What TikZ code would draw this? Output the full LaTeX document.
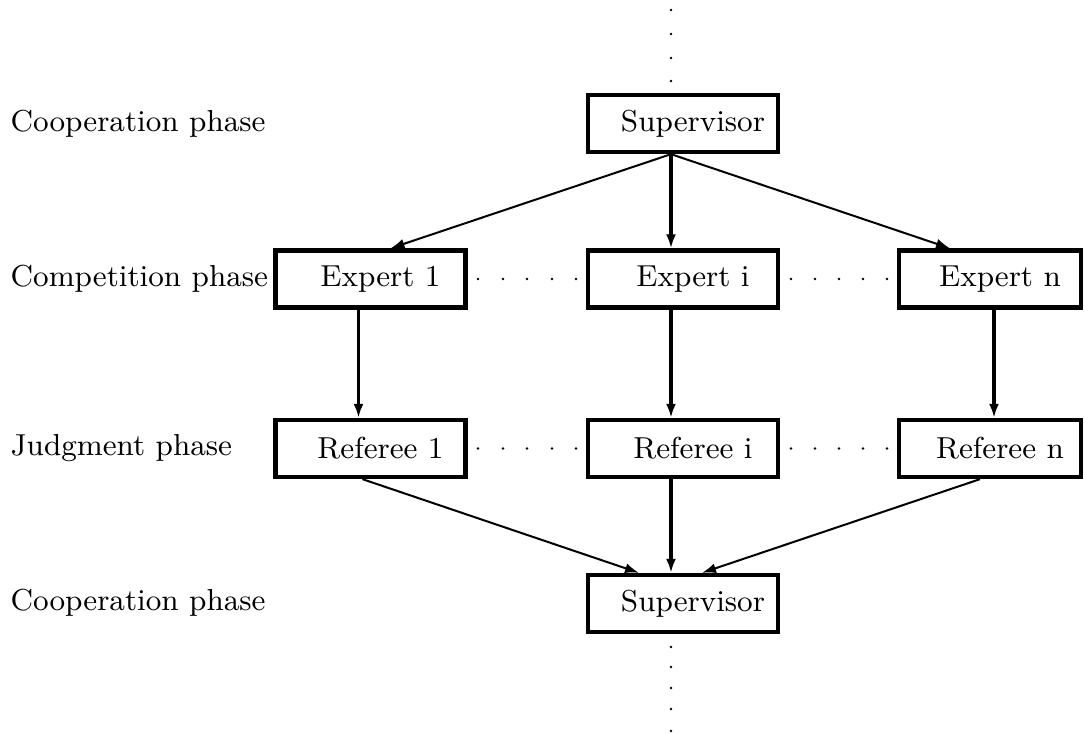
\documentclass[tikz,border=0pt]{standalone}
\usetikzlibrary{arrows.meta,calc}
\begin{document}
\begin{tikzpicture}[x=0.3pt,y=-0.3pt,
  font=\fontsize{9.1}{11}\selectfont,
  box/.style={draw,line width=1.3pt,minimum width=57pt,minimum height=17.1pt,inner sep=0pt},
  phase/.style={anchor=west,inner sep=0pt},
  thin arrow/.style={line width=0.6pt,-{Latex[length=4.2pt,width=3pt]}},
  thick arrow/.style={line width=1pt,-{Latex[length=4.2pt,width=3pt]}},
  tiny dot/.style={circle,fill,inner sep=0pt,minimum size=0.8pt}]
\useasboundingbox (0,0) rectangle (1084,734);

% phase labels
\node[phase] (lab1) at (10,124) {Cooperation phase};
\node[phase] (lab2) at (10,279) {Competition phase};
\node[phase] (lab3) at (10,448) {Judgment phase};
\node[phase] (lab4) at (10,603) {Cooperation phase};

% boxes
\node[box] (sup1) at (683,123.5) {\hspace*{6pt}Supervisor};
\node[box] (e1) at (370.5,279) {\hspace*{6pt}Expert 1};
\node[box] (ei) at (683,279) {\hspace*{6pt}Expert i};
\node[box,minimum width=54.6pt] (en) at (990,279) {\hspace*{6pt}Expert n};
\node[box] (r1) at (370.5,448.5) {\hspace*{6pt}Referee 1};
\node[box] (ri) at (683,448.5) {\hspace*{6pt}Referee i};
\node[box,minimum width=54.6pt] (rn) at (990,448.5) {\hspace*{6pt}Referee n};
\node[box] (sup2) at (683,603.5) {\hspace*{6pt}Supervisor};

% supervisor to experts
\coordinate (s1out) at ([xshift=-12*0.3pt]sup1.south);
\draw[thin arrow] (s1out) -- ([xshift=20*0.3pt]e1.north);
\draw[thick arrow] (s1out) -- ([xshift=-12*0.3pt]ei.north);
\draw[thin arrow] (s1out) -- ([xshift=-40*0.3pt]en.north);

% experts to referees
\draw[thick arrow] ([xshift=-12*0.3pt]e1.south) -- ([xshift=-12*0.3pt]r1.north);
\draw[thick arrow] ([xshift=-12*0.3pt]ei.south) -- ([xshift=-12*0.3pt]ri.north);
\draw[thick arrow] ([xshift=4*0.3pt]en.south) -- ([xshift=4*0.3pt]rn.north);

% referees to supervisor
\draw[thin arrow] ([xshift=-8*0.3pt]r1.south) -- ([xshift=-44*0.3pt]sup2.north);
\draw[thick arrow] ([xshift=-12*0.3pt]ri.south) -- ([xshift=-12*0.3pt]sup2.north);
\draw[thin arrow] ([xshift=-10*0.3pt]rn.south) -- ([xshift=19*0.3pt]sup2.north);

% vertical dots above and below
\foreach \y in {10,34,58,81} \node[tiny dot] at (671,\y) {};
\foreach \y in {647,667,688,709,731} \node[tiny dot] at (671,\y) {};

% horizontal dots between boxes
\foreach \yy in {279,448.5} {
  \foreach \x in {478,503,527,552,576} \node[tiny dot] at (\x,\yy) {};
  \foreach \x in {791,815,839,863,887} \node[tiny dot] at (\x,\yy) {};
}
\end{tikzpicture}
\end{document}
